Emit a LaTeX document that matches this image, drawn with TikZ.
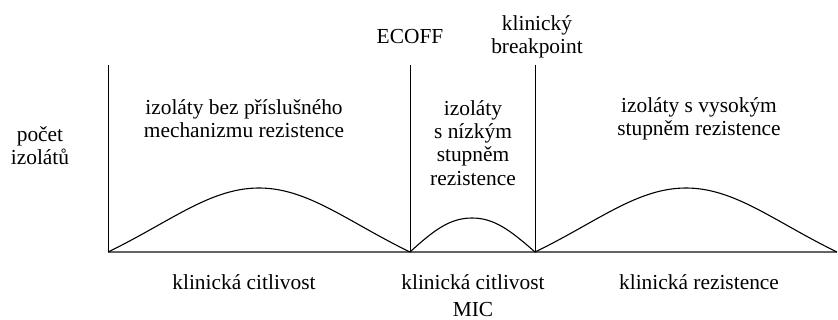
\documentclass[tikz,border=0pt]{standalone}
\usepackage{fontspec}
\setmainfont{Liberation Serif}
\usepackage{tikz}
\definecolor{axisgray}{RGB}{100,100,100}

\begin{document}
\begin{tikzpicture}[x=0.5pt, y=-0.5pt,
        every node/.style={anchor=center, align=center, inner sep=0pt,
            font=\fontsize{10.7}{11.6}\selectfont}]
    \useasboundingbox (0, 0) rectangle (838, 320);
    \coordinate (o) at (108, 252);
    \coordinate (ecoff) at (410, 252);
    \coordinate (bp) at (535, 252);
    \coordinate (end) at (837, 252);
    \draw[line width=1.1pt, color=axisgray] (o) -- (end);
    \draw[line width=0.5pt] (o) -- ++(0, -187);
    \draw[line width=0.5pt] (ecoff) -- ++(0, -187);
    \draw[line width=0.5pt] (bp) -- ++(0, -187);
    \draw[line width=0.55pt] (o)
        .. controls ++(62, -30) and (210, 188) .. (259, 188)
        .. controls (308, 188) and (348, 222) .. (ecoff);
    \draw[line width=0.55pt] (ecoff)
        .. controls ++(24, -22) and (450, 218) .. (472, 218)
        .. controls (494, 218) and (510, 230) .. (bp);
    \draw[line width=0.55pt] (bp)
        .. controls ++(62, -30) and (637, 188) .. (686, 188)
        .. controls (735, 188) and (775, 222) .. (end);
    \node (ecofflab) at (410, 37) {ECOFF};
    \node (bplab) at (537, 37) {klinický\\breakpoint};
    \node (ylab) at (40, 146) {počet\\izolátů};
    \node (izol1) at (244, 119) {izoláty bez příslušného\\mechanizmu rezistence};
    \node (izol2) at (473, 143) {izoláty\\s nízkým\\stupněm\\rezistence};
    \node (izol3) at (699, 119) {izoláty s vysokým\\stupněm rezistence};
    \node (kat1) at (244, 282) {klinická citlivost};
    \node (kat2) at (473, 282) {klinická citlivost};
    \node (kat3) at (699, 282) {klinická rezistence};
    \node (mic) at (473, 310) {MIC};
\end{tikzpicture}
\end{document}
